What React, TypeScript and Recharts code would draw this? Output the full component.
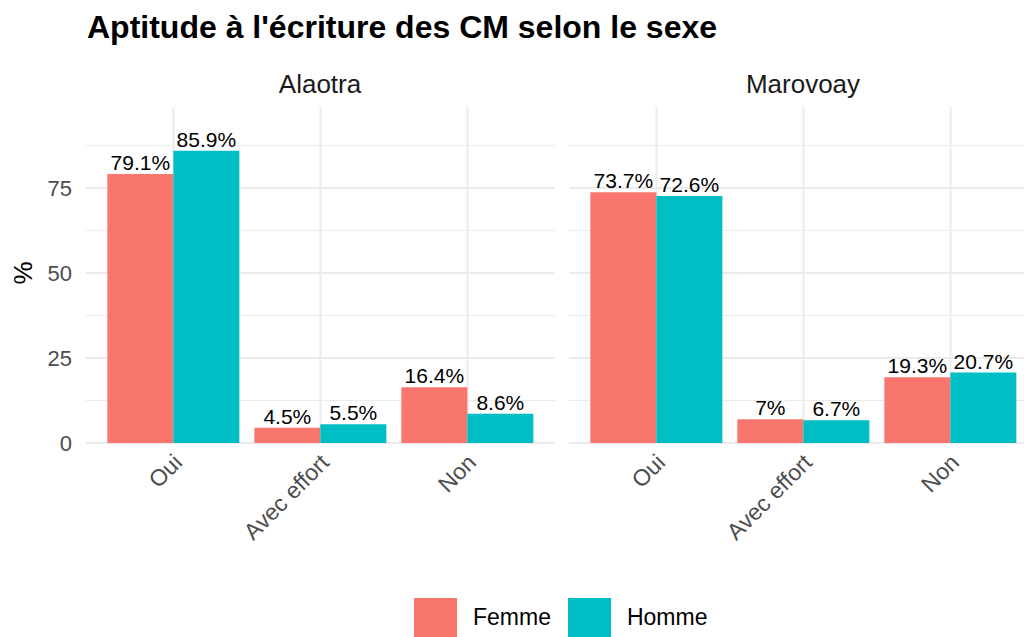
import { Bar, BarChart, CartesianGrid, LabelList, Legend, XAxis, YAxis } from 'recharts';

const CATEGORIES = ['Oui', 'Avec effort', 'Non'];
const ALAOTRA_FEMME = [79.1, 4.5, 16.4];
const ALAOTRA_HOMME = [85.9, 5.5, 8.6];
const MAROVOAY_FEMME = [73.7, 7, 19.3];
const MAROVOAY_HOMME = [72.6, 6.7, 20.7];
const Y_TICKS = [0, 25, 50, 75];
const Y_MINOR = [12.5, 37.5, 62.5, 87.5];

const COLORS = { Femme: '#F8766D', Homme: '#00BFC4' };
const FONT = '"Liberation Sans", Arial, Helvetica, sans-serif';
const GRID = '#EBEBEB';

const build = (femme: number[], homme: number[]) =>
    CATEGORIES.map((cat, i) => ({ cat, Femme: femme[i], Homme: homme[i] }));

const alaotra = build(ALAOTRA_FEMME, ALAOTRA_HOMME);
const marovoay = build(MAROVOAY_FEMME, MAROVOAY_HOMME);

const XTick = (props: any) => {
    const { x, y, payload } = props;
    const ax = x + 10;
    const ay = y + 13;
    return (
        <text x={ax} y={ay} textAnchor="end" fill="#4D4D4D" fontSize={23} fontFamily={FONT} transform={`rotate(-45, ${ax}, ${ay})`}>
            {payload.value}
        </text>
    );
};

const LegendContent = () => (
    <div style={{ display: 'flex', alignItems: 'center', fontFamily: FONT, fontSize: 23, color: '#000' }}>
        {(['Femme', 'Homme'] as const).map((k) => (
            <div key={k} style={{ display: 'flex', alignItems: 'center', marginRight: 17 }}>
                <div style={{ width: 43, height: 39, background: COLORS[k], marginRight: 16 }} />
                <span>{k}</span>
            </div>
        ))}
    </div>
);

function Panel({ data, first }: { data: any[]; first: boolean }) {
    const width = first ? 1024 : 1045;
    const margin = first ? { top: 107, right: 469, bottom: 0, left: 0 } : { top: 107, right: 7, bottom: 0, left: 569 };
    return (
        <BarChart width={width} height={637} data={data} margin={margin} barCategoryGap="5%" barGap={0}>
            <CartesianGrid stroke={GRID} strokeWidth={1} vertical={false} horizontalValues={Y_MINOR} syncWithTicks />
            <CartesianGrid stroke={GRID} strokeWidth={2} syncWithTicks />
            <XAxis
                dataKey="cat"
                interval={0}
                tickLine={false}
                axisLine={false}
                padding={{ left: 14, right: 14 }}
                height={194}
                tick={<XTick />}
            />
            <YAxis
                domain={[0, 98.8]}
                ticks={Y_TICKS}
                hide={!first}
                width={first ? 86 : 0}
                tickLine={false}
                axisLine={false}
                tickMargin={8}
                tick={{ fill: '#4D4D4D', fontSize: 22, fontFamily: FONT }}
                label={
                    first
                        ? ({ viewBox }: any) => (
                              <text
                                  x={32}
                                  y={viewBox.y + viewBox.height / 2 - 2}
                                  textAnchor="middle"
                                  fontSize={26}
                                  fontFamily={FONT}
                                  fill="#000"
                                  transform={`rotate(-90, 32, ${viewBox.y + viewBox.height / 2 - 2})`}
                              >
                                  %
                              </text>
                          )
                        : undefined
                }
            />
            {first && (
                <Legend
                    layout="horizontal"
                    verticalAlign="middle"
                    align="center"
                    wrapperStyle={{ top: 598, left: 414, width: 420 }}
                    content={<LegendContent />}
                />
            )}
            {(['Femme', 'Homme'] as const).map((k) => (
                <Bar key={k} dataKey={k} fill={COLORS[k]} isAnimationActive={false}>
                    <LabelList
                        dataKey={k}
                        position="top"
                        offset={4}
                        formatter={(v: any) => `${v}%`}
                        style={{ fill: '#000', fontSize: 21, fontFamily: FONT }}
                    />
                </Bar>
            ))}
        </BarChart>
    );
}

export default function App() {
    return (
        <div
            style={{
                position: 'absolute',
                left: 0,
                top: 0,
                width: 1024,
                height: 637,
                overflow: 'hidden',
                background: '#fff',
                fontFamily: FONT,
            }}
        >
            <div style={{ position: 'absolute', left: 0, top: 0 }}>
                <Panel data={alaotra} first={true} />
            </div>
            <div style={{ position: 'absolute', left: 0, top: 0 }}>
                <Panel data={marovoay} first={false} />
            </div>
            <div
                style={{
                    position: 'absolute',
                    left: 87,
                    top: 11,
                    fontSize: 32,
                    lineHeight: '32px',
                    fontWeight: 'bold',
                    color: '#000',
                    whiteSpace: 'nowrap',
                }}
            >
                Aptitude à l'écriture des CM selon le sexe
            </div>
            {[
                { name: 'Alaotra', cx: 320 },
                { name: 'Marovoay', cx: 803 },
            ].map((s) => (
                <div
                    key={s.name}
                    style={{
                        position: 'absolute',
                        left: s.cx - 150,
                        width: 300,
                        top: 71,
                        textAlign: 'center',
                        fontSize: 26,
                        lineHeight: '26px',
                        color: '#1A1A1A',
                    }}
                >
                    {s.name}
                </div>
            ))}
        </div>
    );
}
